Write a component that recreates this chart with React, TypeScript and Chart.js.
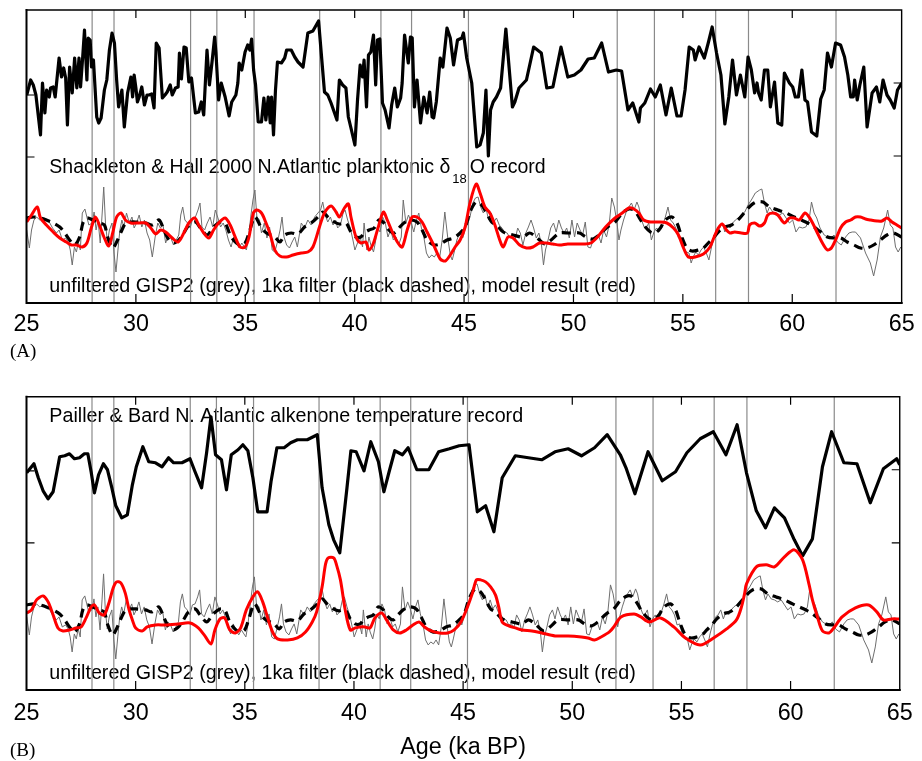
import React, { useEffect, useRef } from "react";
import { Chart, registerables } from "chart.js";

Chart.register(...registerables);

type Pt = [number, number];

// ---- axis ticks and event markers (ka BP) ----
const ageTicks = [25, 30, 35, 40, 45, 50, 55, 60, 65];
const interstadialOnsets = [28.0, 29.0, 32.5, 33.7, 35.4, 38.4, 41.2, 42.6, 45.2, 52.0, 53.7, 56.5, 58.0, 62.0];
const recordTicksLeftA = [14.6, 20.8];
const recordTicksLeftB = [14.7, 21.9];
const recordTicksRight = [14.7, 22.0];

// ---- Shackleton & Hall 2000 planktonic d18O (relative units, upper band) ----
const shackletonHall: Pt[] = [
  [25.01, 20.8], [25.19, 22.3], [25.31, 21.8], [25.43, 20.8], [25.64, 16.8], [25.73, 22.0], [25.84, 19.0], [25.92, 21.3],
  [26.04, 20.6], [26.10, 21.5], [26.22, 21.6], [26.31, 20.6], [26.49, 24.5], [26.60, 22.6], [26.70, 23.5], [26.79, 22.5],
  [26.87, 17.8], [26.97, 23.6], [27.09, 21.0], [27.20, 24.5], [27.30, 21.5], [27.40, 24.5], [27.47, 21.6], [27.55, 24.0],
  [27.65, 27.3], [27.76, 22.3], [27.82, 26.5], [27.91, 26.3], [27.97, 23.6], [28.06, 24.3], [28.21, 18.6], [28.30, 18.0],
  [28.41, 18.5], [28.56, 21.3], [28.67, 22.3], [28.79, 25.3], [28.91, 27.0], [29.02, 26.0], [29.12, 22.3], [29.21, 19.6],
  [29.36, 21.3], [29.47, 17.6], [29.62, 21.0], [29.77, 22.6], [29.85, 20.6], [29.92, 22.8], [30.00, 21.5], [30.07, 20.1],
  [30.15, 20.6], [30.27, 21.6], [30.39, 19.8], [30.51, 20.8], [30.60, 20.8], [30.72, 20.9], [30.83, 19.5], [30.93, 26.0],
  [31.06, 25.5], [31.21, 20.5], [31.33, 20.8], [31.43, 21.1], [31.57, 21.8], [31.66, 20.8], [31.81, 21.5], [31.93, 21.6],
  [31.99, 25.0], [32.08, 22.4], [32.20, 25.6], [32.30, 25.5], [32.42, 22.1], [32.54, 22.5], [32.72, 19.0], [32.87, 19.1],
  [32.99, 20.1], [33.10, 18.8], [33.25, 25.3], [33.36, 21.8], [33.48, 24.1], [33.60, 26.6], [33.66, 25.0], [33.78, 20.3],
  [33.90, 22.0], [34.08, 20.6], [34.26, 18.7], [34.38, 20.1], [34.57, 20.8], [34.66, 22.0], [34.72, 24.0], [34.84, 23.3],
  [34.99, 25.1], [35.11, 25.8], [35.21, 25.3], [35.29, 26.4], [35.38, 23.3], [35.47, 21.8], [35.59, 18.1], [35.74, 18.1],
  [35.85, 20.5], [35.94, 18.3], [36.05, 20.6], [36.14, 18.0], [36.20, 20.6], [36.29, 16.8], [36.38, 21.3], [36.47, 24.1],
  [36.65, 24.0], [36.80, 24.5], [36.89, 25.3], [37.10, 25.3], [37.26, 24.6], [37.41, 24.1], [37.64, 23.6], [37.86, 27.0],
  [38.09, 27.2], [38.35, 28.2], [38.62, 21.1], [38.77, 20.8], [38.92, 20.0], [39.19, 18.3], [39.30, 22.3], [39.45, 21.8],
  [39.60, 21.5], [39.71, 18.6], [39.83, 17.5], [40.01, 15.8], [40.13, 20.3], [40.25, 23.8], [40.36, 22.6], [40.43, 24.3],
  [40.54, 19.6], [40.63, 24.8], [40.74, 25.1], [40.86, 26.8], [40.96, 21.8], [41.04, 26.3], [41.15, 26.4], [41.27, 20.0],
  [41.39, 19.3], [41.57, 17.5], [41.69, 19.8], [41.83, 21.5], [41.95, 19.6], [42.10, 20.5], [42.17, 22.0], [42.28, 26.8],
  [42.45, 24.0], [42.55, 26.6], [42.63, 26.5], [42.73, 19.6], [42.85, 22.3], [43.01, 18.0], [43.16, 20.6], [43.31, 19.0],
  [43.43, 21.1], [43.54, 18.6], [43.61, 18.5], [43.73, 20.1], [43.91, 24.5], [44.03, 23.6], [44.22, 27.5], [44.37, 26.5],
  [44.52, 23.8], [44.70, 26.3], [44.90, 26.5], [44.97, 27.0], [45.12, 24.5], [45.35, 22.0], [45.58, 15.6], [45.73, 15.8],
  [45.88, 17.0], [46.00, 21.3], [46.11, 14.7], [46.21, 19.3], [46.33, 20.1], [46.48, 20.6], [46.67, 21.5], [46.91, 27.4],
  [47.21, 19.6], [47.32, 20.1], [47.51, 21.5], [47.85, 22.3], [48.18, 25.6], [48.53, 25.0], [48.78, 21.5], [49.06, 21.6],
  [49.43, 25.6], [49.74, 22.6], [50.04, 22.8], [50.34, 23.3], [50.67, 24.4], [50.95, 24.5], [51.29, 26.0], [51.60, 23.1],
  [51.96, 23.3], [52.20, 23.2], [52.49, 19.3], [52.71, 20.0], [52.99, 18.1], [53.06, 19.5], [53.26, 20.0], [53.52, 21.4],
  [53.74, 20.6], [53.97, 21.8], [54.23, 18.8], [54.47, 21.5], [54.73, 18.7], [54.92, 18.7], [55.10, 21.3], [55.29, 25.6],
  [55.48, 25.3], [55.56, 24.3], [55.74, 25.6], [55.98, 24.5], [56.16, 26.0], [56.34, 27.6], [56.54, 25.0], [56.74, 22.8],
  [56.92, 17.9], [57.10, 20.6], [57.27, 24.3], [57.45, 20.8], [57.63, 22.8], [57.83, 20.6], [57.98, 24.6], [58.13, 23.3],
  [58.28, 21.0], [58.39, 22.0], [58.46, 21.0], [58.58, 20.3], [58.73, 23.3], [58.88, 23.3], [59.00, 19.6], [59.19, 22.1],
  [59.34, 18.0], [59.52, 17.8], [59.64, 23.0], [59.87, 22.0], [60.02, 21.6], [60.14, 20.6], [60.28, 20.6], [60.44, 23.3],
  [60.58, 20.3], [60.70, 20.1], [60.88, 17.1], [61.12, 16.7], [61.30, 20.4], [61.46, 21.3], [61.61, 25.0], [61.79, 23.6],
  [61.98, 26.0], [62.21, 25.8], [62.39, 24.6], [62.54, 22.8], [62.67, 20.6], [62.79, 20.6], [62.85, 22.3], [62.97, 20.3],
  [63.09, 21.8], [63.27, 23.6], [63.42, 17.6], [63.65, 21.0], [63.85, 21.6], [64.00, 20.1], [64.15, 22.3], [64.33, 20.8],
  [64.48, 20.3], [64.66, 19.5], [64.81, 21.3], [65.00, 22.0],
];

// ---- Pailler & Bard alkenone temperature (relative units, upper band) ----
const paillerBard: Pt[] = [
  [25.01, 21.7], [25.34, 22.6], [25.54, 21.2], [25.76, 19.9], [25.99, 19.1], [26.22, 19.8], [26.52, 23.3], [26.75, 23.4],
  [26.97, 23.6], [27.20, 23.1], [27.43, 23.2], [27.65, 23.6], [27.81, 23.6], [27.96, 21.8], [28.11, 19.7], [28.30, 21.5],
  [28.52, 22.6], [28.71, 22.0], [28.91, 20.2], [29.09, 18.4], [29.36, 17.2], [29.62, 17.5], [29.85, 20.5], [30.03, 22.3],
  [30.33, 24.3], [30.60, 22.8], [30.91, 22.7], [31.21, 22.3], [31.51, 23.2], [31.74, 22.7], [32.12, 22.7], [32.49, 23.1],
  [32.72, 21.8], [33.02, 20.2], [33.25, 23.7], [33.45, 27.3], [33.66, 23.5], [33.93, 23.0], [34.16, 20.0], [34.38, 23.5],
  [34.69, 24.0], [34.91, 24.5], [35.14, 23.9], [35.37, 21.2], [35.59, 17.8], [35.82, 17.8], [36.02, 17.8], [36.20, 20.8],
  [36.47, 24.2], [36.80, 24.2], [37.10, 24.7], [37.41, 25.0], [37.86, 25.0], [38.32, 25.5], [38.54, 20.2], [38.85, 16.5],
  [39.07, 15.0], [39.35, 13.7], [39.68, 20.2], [39.86, 23.9], [40.10, 23.8], [40.46, 21.9], [40.77, 24.8], [41.12, 22.8],
  [41.37, 19.8], [41.61, 21.8], [41.87, 23.9], [42.22, 23.5], [42.48, 24.2], [42.88, 22.0], [43.43, 22.0], [43.88, 23.8],
  [44.37, 24.1], [44.82, 24.4], [45.27, 24.5], [45.65, 17.8], [46.03, 18.4], [46.41, 15.8], [46.79, 21.2], [47.39, 23.4],
  [47.99, 23.2], [48.60, 23.0], [49.21, 23.8], [49.81, 24.1], [50.42, 23.4], [51.02, 24.2], [51.60, 25.5], [52.20, 23.5],
  [52.46, 22.2], [52.87, 19.6], [53.47, 23.8], [54.12, 20.9], [54.73, 21.8], [55.25, 23.7], [55.86, 25.1], [56.46, 25.8],
  [57.04, 23.5], [57.55, 26.5], [57.98, 21.7], [58.43, 17.9], [58.85, 16.2], [59.26, 18.2], [59.72, 17.2], [60.17, 15.0],
  [60.55, 13.4], [61.00, 15.1], [61.46, 22.3], [61.88, 25.8], [62.44, 22.7], [63.04, 22.6], [63.65, 18.7], [64.25, 22.1],
  [64.86, 23.1], [65.00, 22.5],
];

// ---- GISP2 d18O, unfiltered (relative units, lower band) ----
const gisp2Raw: Pt[] = [
  [25.01, 7.3], [25.13, 5.5], [25.23, 7.3], [25.34, 8.3], [25.46, 8.6], [25.61, 8.3], [25.79, 8.5], [25.99, 8.3],
  [26.19, 7.5], [26.37, 7.0], [26.49, 7.3], [26.64, 6.3], [26.79, 6.5], [26.91, 6.1], [27.00, 5.3], [27.09, 3.8],
  [27.19, 5.6], [27.28, 5.1], [27.37, 6.1], [27.46, 5.3], [27.55, 9.0], [27.67, 9.4], [27.76, 8.6], [27.85, 7.8],
  [28.00, 8.0], [28.09, 9.1], [28.18, 7.3], [28.27, 8.3], [28.37, 6.0], [28.46, 9.0], [28.53, 11.6], [28.61, 8.0],
  [28.70, 6.1], [28.79, 7.3], [28.91, 8.0], [29.00, 5.0], [29.09, 3.1], [29.18, 5.3], [29.27, 7.3], [29.36, 8.3],
  [29.45, 7.6], [29.57, 9.0], [29.70, 8.0], [29.82, 8.6], [29.92, 7.5], [30.03, 8.0], [30.15, 8.8], [30.27, 7.6],
  [30.39, 8.3], [30.51, 7.0], [30.63, 6.3], [30.75, 4.6], [30.88, 6.6], [31.00, 8.0], [31.12, 7.5], [31.24, 7.8],
  [31.36, 6.0], [31.48, 6.8], [31.60, 6.5], [31.72, 5.8], [31.84, 6.3], [31.96, 6.8], [32.05, 8.8], [32.14, 9.6],
  [32.24, 8.3], [32.36, 8.0], [32.48, 7.5], [32.60, 8.5], [32.72, 8.6], [32.84, 9.3], [32.93, 10.0], [33.02, 7.6],
  [33.14, 7.3], [33.26, 8.0], [33.39, 8.6], [33.51, 7.6], [33.63, 9.3], [33.75, 8.5], [33.87, 7.6], [33.99, 8.0],
  [34.11, 7.3], [34.23, 6.3], [34.35, 5.6], [34.47, 6.6], [34.60, 6.0], [34.72, 5.5], [34.84, 6.0], [34.96, 5.6],
  [35.05, 5.3], [35.14, 6.5], [35.26, 8.8], [35.35, 10.3], [35.44, 11.3], [35.53, 8.6], [35.65, 8.3], [35.74, 7.0],
  [35.87, 8.0], [35.99, 6.5], [36.11, 7.6], [36.23, 5.3], [36.35, 5.1], [36.47, 6.1], [36.59, 7.3], [36.68, 8.6],
  [36.77, 6.6], [36.89, 5.8], [37.02, 5.5], [37.14, 6.1], [37.26, 6.6], [37.38, 5.6], [37.56, 8.0], [37.71, 7.5],
  [37.86, 8.3], [38.01, 7.8], [38.17, 8.6], [38.32, 9.0], [38.44, 9.3], [38.54, 10.1], [38.65, 8.8], [38.77, 8.1],
  [38.89, 8.6], [39.01, 7.8], [39.13, 8.3], [39.22, 7.5], [39.35, 7.8], [39.47, 9.0], [39.56, 9.3], [39.68, 8.3],
  [39.80, 7.5], [39.92, 6.3], [40.01, 5.3], [40.13, 6.0], [40.25, 6.6], [40.36, 5.6], [40.43, 8.0], [40.56, 5.3],
  [40.65, 6.6], [40.74, 5.8], [40.86, 5.1], [40.95, 6.1], [41.04, 7.6], [41.16, 7.1], [41.28, 8.6], [41.40, 8.0],
  [41.52, 6.6], [41.64, 7.3], [41.77, 6.3], [41.89, 6.6], [42.01, 5.8], [42.13, 6.6], [42.22, 10.3], [42.34, 8.0],
  [42.46, 8.8], [42.58, 8.1], [42.70, 7.1], [42.82, 8.3], [42.93, 9.0], [43.04, 7.6], [43.16, 6.6], [43.28, 5.0],
  [43.40, 4.5], [43.52, 4.8], [43.64, 4.6], [43.76, 5.0], [43.88, 4.5], [44.00, 6.3], [44.12, 9.1], [44.25, 6.6],
  [44.37, 4.8], [44.46, 4.3], [44.55, 5.1], [44.67, 6.3], [44.82, 7.1], [44.94, 6.5], [45.06, 7.5], [45.18, 8.0],
  [45.27, 8.6], [45.40, 10.0], [45.52, 10.5], [45.64, 10.6], [45.76, 9.6], [45.88, 9.0], [46.00, 9.5], [46.12, 8.3],
  [46.24, 9.0], [46.36, 8.1], [46.48, 8.5], [46.61, 7.8], [46.73, 7.5], [46.85, 7.1], [46.97, 7.0], [47.09, 6.5],
  [47.21, 6.6], [47.33, 6.3], [47.45, 7.5], [47.57, 7.0], [47.69, 5.8], [47.82, 7.0], [47.94, 7.6], [48.06, 8.3],
  [48.18, 7.5], [48.30, 6.5], [48.42, 7.0], [48.54, 5.8], [48.63, 3.8], [48.72, 5.3], [48.84, 6.3], [48.96, 7.5],
  [49.09, 8.0], [49.21, 7.1], [49.33, 8.3], [49.45, 7.5], [49.57, 7.0], [49.69, 7.5], [49.81, 6.5], [49.93, 8.3],
  [50.05, 6.6], [50.17, 8.0], [50.30, 7.3], [50.42, 6.8], [50.54, 8.1], [50.66, 5.6], [50.78, 5.5], [50.90, 6.3],
  [51.02, 6.6], [51.14, 6.8], [51.26, 6.0], [51.38, 7.3], [51.51, 6.6], [51.63, 7.8], [51.75, 10.5], [51.87, 9.6],
  [51.99, 8.0], [52.08, 6.3], [52.17, 7.3], [52.29, 8.3], [52.41, 9.1], [52.53, 9.6], [52.65, 10.0], [52.77, 9.3],
  [52.90, 10.1], [52.99, 9.6], [53.11, 8.3], [53.23, 7.6], [53.32, 7.5], [53.44, 8.0], [53.56, 6.3], [53.68, 7.1],
  [53.80, 7.5], [53.92, 7.1], [54.04, 7.5], [54.20, 8.6], [54.32, 9.6], [54.44, 8.3], [54.56, 8.0], [54.68, 7.5],
  [54.80, 6.5], [54.92, 6.6], [55.04, 5.6], [55.16, 5.1], [55.28, 5.0], [55.38, 4.0], [55.47, 4.6], [55.59, 5.1],
  [55.71, 4.8], [55.83, 5.3], [55.95, 5.6], [56.07, 5.0], [56.19, 4.3], [56.31, 5.6], [56.43, 6.6], [56.56, 7.3],
  [56.68, 7.5], [56.80, 8.0], [56.92, 7.1], [57.04, 7.8], [57.16, 7.5], [57.28, 8.0], [57.40, 8.3], [57.52, 8.5],
  [57.67, 8.8], [57.83, 9.1], [57.98, 9.8], [58.13, 10.3], [58.31, 11.0], [58.51, 11.3], [58.61, 11.4], [58.73, 10.0],
  [58.85, 9.0], [58.96, 9.6], [59.11, 9.1], [59.26, 9.0], [59.41, 8.8], [59.57, 9.0], [59.72, 8.5], [59.87, 8.0],
  [60.02, 8.3], [60.17, 7.1], [60.32, 7.6], [60.47, 7.5], [60.62, 7.6], [60.77, 8.3], [60.88, 10.1], [61.00, 9.0],
  [61.12, 8.5], [61.27, 7.5], [61.46, 6.8], [61.61, 6.6], [61.76, 6.5], [61.91, 6.8], [62.06, 6.1], [62.24, 5.8],
  [62.44, 6.6], [62.59, 7.0], [62.74, 7.1], [62.89, 7.1], [63.12, 6.5], [63.35, 5.0], [63.57, 4.0], [63.72, 2.7],
  [63.88, 4.3], [64.03, 6.6], [64.18, 7.5], [64.36, 9.3], [64.48, 7.8], [64.60, 7.5], [64.72, 5.6], [64.84, 5.1],
  [64.96, 5.6],
];

// ---- GISP2 with 1 ka filter ----
const gisp2Filtered: Pt[] = [
  [25.01, 8.5], [25.31, 8.6], [25.61, 8.5], [25.91, 8.3], [26.22, 8.0], [26.52, 7.6], [26.75, 7.0], [26.97, 6.3],
  [27.20, 5.8], [27.43, 6.6], [27.58, 8.0], [27.76, 8.5], [28.03, 8.3], [28.33, 8.0], [28.56, 7.8], [28.71, 6.6],
  [28.94, 5.5], [29.12, 6.1], [29.32, 7.1], [29.54, 8.0], [29.77, 8.1], [30.00, 8.1], [30.45, 8.0], [30.75, 7.8],
  [31.06, 8.3], [31.28, 7.3], [31.51, 6.3], [31.74, 6.0], [31.96, 6.3], [32.19, 7.0], [32.42, 7.8], [32.72, 8.1],
  [32.95, 7.5], [33.25, 6.8], [33.55, 7.6], [33.86, 8.1], [34.08, 8.0], [34.31, 6.8], [34.54, 6.1], [34.76, 5.8],
  [34.99, 6.0], [35.17, 7.0], [35.44, 8.6], [35.74, 7.5], [35.97, 7.0], [36.35, 6.6], [36.58, 6.1], [36.80, 6.8],
  [37.10, 7.0], [37.41, 6.9], [37.71, 7.6], [38.01, 8.0], [38.32, 8.6], [38.54, 9.1], [38.77, 8.6], [39.07, 8.1],
  [39.30, 7.9], [39.60, 8.0], [39.83, 7.1], [40.06, 6.6], [40.28, 6.6], [40.43, 7.0], [40.66, 7.3], [40.89, 7.5],
  [41.11, 8.3], [41.34, 8.0], [41.57, 7.3], [41.80, 7.0], [42.02, 7.5], [42.25, 8.0], [42.55, 8.3], [42.85, 8.1],
  [43.08, 7.3], [43.31, 6.3], [43.61, 5.8], [43.91, 5.9], [44.22, 6.3], [44.52, 6.5], [44.82, 7.0], [45.05, 7.6],
  [45.27, 9.1], [45.55, 10.1], [45.80, 9.8], [46.03, 9.0], [46.26, 8.1], [46.48, 7.8], [46.79, 7.1], [47.24, 6.8],
  [47.69, 6.6], [47.99, 7.0], [48.30, 6.6], [48.68, 5.9], [48.98, 6.3], [49.36, 7.0], [49.81, 7.0], [50.27, 7.0],
  [50.57, 6.6], [50.87, 6.4], [51.17, 6.8], [51.55, 7.6], [51.90, 8.1], [52.23, 9.0], [52.53, 9.4], [52.76, 9.3],
  [52.99, 8.6], [53.21, 7.8], [53.52, 7.1], [53.74, 7.0], [53.97, 7.5], [54.20, 8.3], [54.50, 8.6], [54.73, 8.0],
  [54.95, 6.6], [55.18, 5.5], [55.41, 5.2], [55.71, 5.3], [55.94, 5.5], [56.16, 6.0], [56.39, 6.5], [56.62, 7.1],
  [56.92, 7.6], [57.22, 7.8], [57.52, 8.3], [57.83, 9.1], [58.13, 9.8], [58.35, 10.1], [58.66, 10.1], [58.96, 9.6],
  [59.34, 9.3], [59.72, 9.0], [60.09, 8.6], [60.40, 8.3], [60.70, 8.0], [61.00, 7.6], [61.30, 7.1], [61.61, 6.6],
  [61.91, 6.5], [62.21, 6.5], [62.51, 6.1], [62.82, 5.8], [63.12, 5.5], [63.42, 5.5], [63.72, 5.8], [64.03, 6.3],
  [64.33, 6.8], [64.63, 7.0], [65.00, 6.6],
];

// ---- model result driven by the Shackleton & Hall record ----
const modelA: Pt[] = [
  [25.01, 8.1], [25.23, 8.8], [25.49, 9.6], [25.64, 8.5], [25.91, 7.8], [26.22, 7.1], [26.52, 6.5], [26.82, 6.1],
  [27.05, 5.8], [27.28, 5.8], [27.55, 5.6], [27.76, 6.0], [27.96, 7.5], [28.15, 8.6], [28.33, 7.8], [28.56, 6.5],
  [28.76, 5.7], [28.94, 7.0], [29.12, 8.6], [29.32, 9.0], [29.52, 8.3], [29.77, 8.0], [30.15, 8.0], [30.45, 8.0],
  [30.68, 7.5], [30.91, 6.9], [31.13, 7.3], [31.36, 7.1], [31.66, 6.5], [31.93, 6.1], [32.19, 7.0], [32.42, 8.0],
  [32.69, 8.5], [32.87, 7.8], [33.10, 7.0], [33.33, 6.5], [33.55, 7.3], [33.78, 8.0], [34.08, 8.5], [34.31, 7.8],
  [34.54, 6.6], [34.76, 5.6], [34.99, 5.6], [35.17, 6.6], [35.37, 9.0], [35.52, 9.3], [35.74, 9.0], [35.93, 8.1],
  [36.12, 7.0], [36.35, 5.3], [36.58, 4.7], [36.88, 4.6], [37.18, 4.8], [37.56, 5.0], [37.86, 5.1], [38.09, 5.6],
  [38.39, 7.6], [38.62, 9.0], [38.92, 9.7], [39.15, 9.1], [39.30, 8.6], [39.53, 9.5], [39.71, 9.9], [39.83, 8.6],
  [40.06, 6.6], [40.28, 6.0], [40.51, 6.1], [40.66, 5.3], [40.86, 6.0], [41.04, 7.3], [41.31, 9.1], [41.49, 8.3],
  [41.72, 7.1], [41.95, 6.1], [42.17, 5.6], [42.40, 7.3], [42.63, 8.6], [42.85, 8.6], [43.08, 8.1], [43.31, 7.1],
  [43.61, 5.8], [43.91, 4.4], [44.14, 4.2], [44.37, 4.8], [44.59, 5.6], [44.82, 6.3], [45.05, 7.6], [45.27, 10.0],
  [45.55, 11.9], [45.73, 11.0], [45.95, 9.6], [46.18, 9.0], [46.41, 7.8], [46.63, 6.3], [46.79, 5.6], [47.01, 6.6],
  [47.24, 6.5], [47.54, 5.8], [47.85, 5.5], [48.15, 5.6], [48.45, 6.0], [48.75, 6.0], [49.06, 5.9], [49.36, 5.8],
  [49.74, 5.9], [50.11, 5.9], [50.49, 5.9], [50.79, 6.0], [51.10, 6.6], [51.47, 7.6], [51.90, 8.5], [52.23, 9.0],
  [52.53, 9.5], [52.76, 9.4], [52.99, 9.0], [53.21, 8.3], [53.52, 8.1], [53.89, 8.1], [54.27, 8.0], [54.57, 7.5],
  [54.80, 6.8], [55.03, 5.5], [55.25, 4.6], [55.56, 4.6], [55.94, 4.9], [56.24, 5.6], [56.43, 6.6], [56.62, 7.5],
  [56.80, 7.9], [56.99, 7.3], [57.15, 7.0], [57.37, 7.1], [57.67, 7.0], [57.95, 7.0], [58.05, 7.8], [58.28, 8.0],
  [58.51, 7.7], [58.73, 8.0], [58.88, 8.8], [59.11, 9.0], [59.34, 8.8], [59.64, 8.0], [59.87, 8.5], [60.09, 8.5],
  [60.32, 8.3], [60.58, 9.0], [60.77, 8.6], [60.93, 8.0], [61.15, 7.0], [61.38, 6.0], [61.61, 5.3], [61.79, 5.5],
  [61.98, 6.3], [62.21, 7.5], [62.44, 8.1], [62.67, 8.3], [62.89, 8.6], [63.12, 8.6], [63.35, 8.4], [63.57, 8.3],
  [63.88, 8.2], [64.10, 8.2], [64.33, 8.5], [64.56, 8.1], [64.78, 7.8], [65.00, 7.5],
];

// ---- model result driven by the Pailler & Bard record ----
const modelB: Pt[] = [
  [25.01, 7.7], [25.23, 8.0], [25.46, 9.0], [25.76, 9.4], [25.99, 8.8], [26.22, 7.5], [26.44, 6.2], [26.67, 5.9],
  [26.97, 6.0], [27.28, 6.2], [27.50, 6.3], [27.73, 7.2], [27.96, 8.3], [28.11, 8.5], [28.33, 7.7], [28.56, 7.5],
  [28.79, 8.8], [28.97, 10.2], [29.12, 10.8], [29.32, 10.7], [29.52, 9.7], [29.70, 8.0], [29.85, 7.0], [30.00, 6.2],
  [30.30, 5.9], [30.53, 6.3], [30.91, 6.5], [31.36, 6.5], [31.96, 6.6], [32.49, 6.7], [32.87, 6.2], [33.17, 5.4],
  [33.45, 4.6], [33.63, 6.0], [33.86, 7.1], [34.08, 7.2], [34.31, 6.0], [34.57, 5.7], [34.81, 6.2], [35.07, 8.0],
  [35.37, 9.3], [35.59, 9.8], [35.82, 8.8], [36.05, 7.2], [36.27, 5.8], [36.50, 5.1], [36.96, 5.0], [37.41, 5.2],
  [37.78, 5.8], [38.09, 6.8], [38.29, 7.8], [38.54, 10.3], [38.70, 12.6], [38.82, 13.2], [39.07, 13.2], [39.20, 12.5],
  [39.38, 11.0], [39.60, 8.0], [39.83, 6.0], [40.06, 6.2], [40.28, 6.3], [40.51, 6.3], [40.74, 6.2], [40.96, 7.2],
  [41.27, 7.7], [41.49, 7.0], [41.80, 6.0], [42.10, 5.7], [42.40, 6.0], [42.70, 6.5], [42.98, 6.8], [43.23, 6.3],
  [43.54, 5.9], [43.91, 5.7], [44.29, 5.7], [44.59, 6.0], [44.90, 6.8], [45.20, 8.3], [45.43, 9.7], [45.61, 11.0],
  [45.80, 11.0], [46.03, 10.8], [46.26, 10.3], [46.48, 9.5], [46.63, 8.3], [46.79, 6.8], [47.09, 6.4], [47.39, 6.2],
  [47.69, 6.0], [48.15, 5.9], [48.60, 5.7], [49.21, 5.4], [49.81, 5.4], [50.42, 5.3], [50.72, 5.2], [51.02, 5.0],
  [51.32, 5.3], [51.70, 5.8], [51.90, 6.3], [52.23, 7.3], [52.83, 7.6], [53.14, 7.3], [53.52, 6.8], [54.04, 7.2],
  [54.65, 6.3], [55.18, 5.2], [55.86, 4.5], [56.54, 5.3], [57.07, 6.1], [57.52, 7.0], [57.75, 8.3], [57.90, 9.7],
  [57.98, 10.6], [58.43, 12.3], [58.88, 12.5], [59.26, 12.3], [59.72, 13.3], [60.17, 14.0], [60.55, 13.0], [60.85, 10.5],
  [61.00, 9.0], [61.23, 7.3], [61.46, 5.9], [61.76, 5.7], [61.98, 6.2], [62.36, 7.3], [62.97, 8.2], [63.57, 8.5],
  [63.95, 7.8], [64.25, 7.0], [64.63, 7.1], [65.00, 7.1],
];

const SANS = '"Liberation Sans", Arial, Helvetica, sans-serif';
const SERIF = '"Liberation Serif", "Times New Roman", serif';
const Y_MAX = 29.3;

interface Run { text: string; size: number; shift: number; gap: number }
interface TextLine { runs: Run[]; dx: number; dy: number; fromBottom: boolean }
interface PanelSpec {
  letter: string;
  letterX: number;
  letterY: number;
  record: Pt[];
  model: Pt[];
  leftTicks: number[];
  lines: TextLine[];
  padTop: number;
  padBottom: number;
  axisHeight: number;
  labelPad: number;
  axisTitle: string;
  canvasHeight: number;
}

const caption = "unfiltered GISP2 (grey), 1ka filter (black dashed), model result (red)";
const run = (text: string, size: number, shift = 0, gap = 0): Run => ({ text, size, shift, gap });

const panelA: PanelSpec = {
  letter: "(A)",
  letterX: 10,
  letterY: 357,
  record: shackletonHall,
  model: modelA,
  leftTicks: recordTicksLeftA,
  lines: [
    {
      dx: 22.8,
      dy: 163,
      fromBottom: false,
      runs: [
        run("Shackleton & Hall 2000 N.Atlantic planktonic \u03b4", 19.5, 0, 2),
        run("18", 13, 10, 3),
        run("O record", 19.5),
      ],
    },
    { dx: 22.8, dy: 11.3, fromBottom: true, runs: [run(caption, 19.7)] },
  ],
  padTop: 10,
  padBottom: 22,
  axisHeight: 50,
  labelPad: 7.4,
  axisTitle: "",
  canvasHeight: 375,
};

const panelB: PanelSpec = {
  letter: "(B)",
  letterX: 10,
  letterY: 381,
  record: paillerBard,
  model: modelB,
  leftTicks: recordTicksLeftB,
  lines: [
    { dx: 22.8, dy: 25.3, fromBottom: false, runs: [run("Pailler & Bard N. Atlantic alkenone temperature record", 19.7)] },
    { dx: 22.8, dy: 10.7, fromBottom: true, runs: [run(caption, 19.7)] },
  ],
  padTop: 21.7,
  padBottom: 1.35,
  axisHeight: 69.65,
  labelPad: 9.3,
  axisTitle: "Age (ka BP)",
  canvasHeight: 386,
};

const toXY = (pts: Pt[]) => pts.map(([x, y]) => ({ x, y }));

// Frame, inner ticks, annotations and panel letter for one panel
function makePanelDecor(p: PanelSpec) {
  return {
    id: "panelDecor",
    beforeDatasetsDraw(chart: any) {
      const { ctx, chartArea: a } = chart;
      ctx.save();
      ctx.fillStyle = "#000";
      ctx.textBaseline = "alphabetic";
      ctx.textAlign = "left";
      for (const line of p.lines) {
        let x = a.left + line.dx;
        const base = line.fromBottom ? a.bottom - line.dy : a.top + line.dy;
        for (const r of line.runs) {
          ctx.font = `${r.size}px ${SANS}`;
          ctx.fillText(r.text, x, base + r.shift);
          x += ctx.measureText(r.text).width + r.gap;
        }
      }
      ctx.restore();
    },
    afterDatasetsDraw(chart: any) {
      const { ctx, chartArea: a, scales } = chart;
      const xs = scales.x;
      const ys = scales.y;
      ctx.save();
      ctx.strokeStyle = "#000";
      ctx.lineCap = "square";
      ctx.lineWidth = 1.4;
      ctx.beginPath();
      ctx.moveTo(a.left, a.top);
      ctx.lineTo(a.right, a.top);
      ctx.lineTo(a.right, a.bottom);
      ctx.stroke();
      ctx.lineWidth = 2;
      ctx.beginPath();
      ctx.moveTo(a.left, a.top);
      ctx.lineTo(a.left, a.bottom);
      ctx.lineTo(a.right, a.bottom);
      ctx.stroke();
      ctx.lineCap = "butt";
      ctx.lineWidth = 1.2;
      ctx.beginPath();
      for (const t of ageTicks.slice(1, -1)) {
        const px = xs.getPixelForValue(t);
        ctx.moveTo(px, a.bottom);
        ctx.lineTo(px, a.bottom - 9);
        ctx.moveTo(px, a.top);
        ctx.lineTo(px, a.top + 8);
      }
      for (const v of p.leftTicks) {
        const py = ys.getPixelForValue(v);
        ctx.moveTo(a.left, py);
        ctx.lineTo(a.left + 8, py);
      }
      for (const v of recordTicksRight) {
        const py = ys.getPixelForValue(v);
        ctx.moveTo(a.right, py);
        ctx.lineTo(a.right - 8, py);
      }
      ctx.stroke();
      ctx.restore();
    },
    afterDraw(chart: any) {
      const { ctx } = chart;
      ctx.save();
      ctx.fillStyle = "#000";
      ctx.font = `19px ${SERIF}`;
      ctx.textBaseline = "alphabetic";
      ctx.textAlign = "left";
      ctx.fillText(p.letter, p.letterX, p.letterY);
      ctx.restore();
    },
  };
}

function buildConfig(p: PanelSpec): any {
  const eventLines = interstadialOnsets.map((age) => ({
    data: [
      { x: age, y: 0 },
      { x: age, y: Y_MAX },
    ],
    borderColor: "#8a8a8a",
    borderWidth: 1.2,
    pointRadius: 0,
    tension: 0,
  }));
  return {
    type: "line",
    data: {
      datasets: [
        { label: "model", data: toXY(p.model), borderColor: "#ff0000", borderWidth: 3, pointRadius: 0, tension: 0.3 },
        {
          label: "1ka filter",
          data: toXY(gisp2Filtered),
          borderColor: "#000",
          borderWidth: 3.2,
          borderDash: [9, 6],
          pointRadius: 0,
          tension: 0.3,
        },
        { label: "GISP2", data: toXY(gisp2Raw), borderColor: "#6e6e6e", borderWidth: 1, pointRadius: 0, tension: 0 },
        {
          label: "record",
          data: toXY(p.record),
          borderColor: "#000",
          borderWidth: 3.2,
          pointRadius: 0,
          tension: 0,
          borderJoinStyle: "round",
        },
        ...eventLines,
      ],
    },
    options: {
      animation: false,
      responsive: false,
      events: [],
      layout: { padding: { left: 26.5, right: 14, top: p.padTop, bottom: p.padBottom } },
      plugins: {
        legend: { display: false },
        tooltip: { enabled: false },
      },
      scales: {
        x: {
          type: "linear",
          min: 25,
          max: 65,
          grid: { display: false, drawTicks: false },
          border: { display: false },
          afterBuildTicks: (scale: any) => {
            scale.ticks = ageTicks.map((value) => ({ value }));
          },
          afterFit: (scale: any) => {
            scale.height = p.axisHeight;
          },
          ticks: {
            color: "#000",
            padding: p.labelPad,
            maxRotation: 0,
            autoSkip: false,
            font: { family: SANS, size: 23.3, lineHeight: 1.2 },
            callback: (v: number) => String(v),
          },
          title: {
            display: p.axisTitle !== "",
            text: p.axisTitle,
            color: "#000",
            padding: 0,
            font: { family: SANS, size: 23.3, lineHeight: 1 },
          },
        },
        y: { type: "linear", display: false, min: 0, max: Y_MAX },
      },
    },
    plugins: [makePanelDecor(p)],
  };
}

export default function App() {
  const refA = useRef<HTMLCanvasElement>(null);
  const refB = useRef<HTMLCanvasElement>(null);

  useEffect(() => {
    const a = new Chart(refA.current as HTMLCanvasElement, buildConfig(panelA));
    const b = new Chart(refB.current as HTMLCanvasElement, buildConfig(panelB));
    return () => {
      a.destroy();
      b.destroy();
    };
  }, []);

  return (
    <div style={{ position: "absolute", left: 0, top: 0, width: 922, height: 761, background: "#fff" }}>
      <canvas
        ref={refA}
        width={922}
        height={panelA.canvasHeight}
        style={{ position: "absolute", left: 0, top: 0, display: "block" }}
      />
      <canvas
        ref={refB}
        width={922}
        height={panelB.canvasHeight}
        style={{ position: "absolute", left: 0, top: 375, display: "block" }}
      />
    </div>
  );
}
